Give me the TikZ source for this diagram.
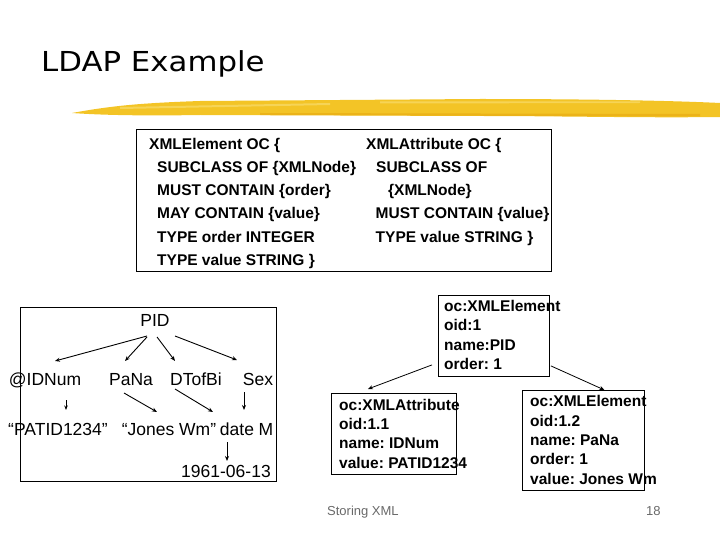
\documentclass[tikz,border=0pt]{standalone}
\usepackage{fontspec}
\setmainfont{Liberation Sans}
\newfontfamily\titlefont{DejaVu Sans}
\usetikzlibrary{arrows.meta}
\definecolor{brushgold}{RGB}{243,196,38}
\definecolor{brushlight}{RGB}{249,224,118}
\definecolor{brushdark}{RGB}{232,172,20}
\definecolor{footgray}{RGB}{105,105,105}
\frenchspacing

\begin{document}
\frenchspacing
\begin{tikzpicture}[
  x=1pt,y=-1pt,
  deftext/.style={font=\fontsize{15.5}{23.2}\selectfont\bfseries,align=left,
    anchor=north west,inner sep=0pt},
  oidtext/.style={font=\fontsize{15.5}{19.4}\selectfont\bfseries,align=left,
    anchor=north west,inner sep=0pt},
  treeword/.style={font=\fontsize{17.5}{20}\selectfont,anchor=base,inner sep=0pt},
  frame/.style={draw,line width=0.9pt,anchor=north west,inner sep=0pt},
  treearrow/.style={-{Stealth[length=5pt,width=4pt]},line width=0.9pt},
  footer/.style={font=\fontsize{13}{15}\selectfont,text=footgray,anchor=base west,inner sep=0pt},
  >=Stealth
]
  \useasboundingbox (0,0) rectangle (720,540);

  % title and brush stroke
  \node[anchor=base west,inner sep=0pt,font=\titlefont\fontsize{27.5}{30}\selectfont]
    (title) at (41,72) {\scalebox{1.12}[1]{LDAP Example}};
  \fill[brushgold] (72,113) .. controls (110,106) and (140,103) .. (200,101)
    -- (480,99) .. controls (600,99) and (680,101) .. (720,103)
    -- (720,117) .. controls (640,118) and (560,116) .. (480,116)
    -- (200,115) .. controls (140,116) and (100,115) .. (72,113) -- cycle;
  \fill[brushlight,opacity=0.6] (120,107) -- (330,103) -- (330,105) -- (120,109) -- cycle;
  \fill[brushlight,opacity=0.6] (380,101.5) -- (640,101.5) -- (640,103) -- (380,103.5) -- cycle;
  \fill[brushdark,opacity=0.7] (260,113) -- (700,114) -- (700,116.5) -- (260,115) -- cycle;

  % object class definitions
  \node[frame,minimum width=415pt,minimum height=142pt] (defs) at (136,129) {};
  \node[deftext] (defelem) at (149,137.8)
    {XMLElement OC \{\\
     \hspace*{8pt}SUBCLASS OF \{XMLNode\}\\
     \hspace*{8pt}MUST CONTAIN \{order\}\\
     \hspace*{8pt}MAY CONTAIN \{value\}\\
     \hspace*{8pt}TYPE order INTEGER\\
     \hspace*{8pt}TYPE value STRING \}};
  \node[deftext] (defattr) at (366,137.8)
    {XMLAttribute OC \{\\
     \hspace*{10pt}SUBCLASS OF\\
     \hspace*{22pt}\{XMLNode\}\\
     \hspace*{9.5pt}MUST CONTAIN \{value\}\\
     \hspace*{9.5pt}TYPE value STRING \}};

  % XML tree
  \node[frame,minimum width=256pt,minimum height=174pt] (tree) at (20,307) {};
  \node[treeword] (pid) at (155,326) {PID};
  \node[treeword] (idnum) at (45,385) {@IDNum};
  \node[treeword] (pana) at (131,385) {PaNa};
  \node[treeword] (dtofbi) at (196,385) {DTofBi};
  \node[treeword] (sex) at (258,385) {Sex};
  \node[treeword] (patid) at (58,435) {“PATID1234”};
  \node[treeword] (jones) at (169,435) {“Jones Wm”};
  \node[treeword] (date) at (237,435) {date};
  \node[treeword] (mval) at (266,435) {M};
  \node[treeword] (dob) at (226,477) {1961-06-13};

  \draw[treearrow] ([shift={(-8,10)}]pid.base) -- ([shift={(10,-24)}]idnum.base);
  \draw[treearrow] ([shift={(-8,11)}]pid.base) -- ([shift={(-6,-24)}]pana.base);
  \draw[treearrow] ([shift={(2,11)}]pid.base) -- ([shift={(-21,-24)}]dtofbi.base);
  \draw[treearrow] ([shift={(20,10)}]pid.base) -- ([shift={(-21,-25)}]sex.base);
  \draw[treearrow,-{Stealth[length=4.5pt,width=3.5pt]},line width=0.8pt]
    ([shift={(21,15)}]idnum.base) -- ([shift={(8,-25)}]patid.base);
  \draw[treearrow] ([shift={(-7,8)}]pana.base) -- ([shift={(-12,-23)}]jones.base);
  \draw[treearrow] ([shift={(-21,4)}]dtofbi.base) -- ([shift={(-24,-23)}]date.base);
  \draw[treearrow] ([shift={(-14,7)}]sex.base) -- ([shift={(-22,-25)}]mval.base);
  \draw[treearrow] ([shift={(-10,7)}]date.base) -- ([shift={(1,-16)}]dob.base);

  % stored entries
  \node[frame,minimum width=111pt,minimum height=81pt] (elem1) at (438,295) {};
  \node[oidtext] (elem1txt) at (444,300)
    {oc:XMLElement\\oid:1\\name:PID\\order: 1};
  \node[frame,minimum width=125pt,minimum height=81pt] (attr) at (331,393) {};
  \node[oidtext] (attrtxt) at (339,398.6)
    {oc:XMLAttribute\\oid:1.1\\name: IDNum\\value: PATID1234};
  \node[frame,minimum width=122pt,minimum height=100pt] (elem2) at (522,390) {};
  \node[oidtext] (elem2txt) at (530,395.3)
    {oc:XMLElement\\oid:1.2\\name: PaNa\\order: 1\\value: Jones Wm};

  \draw[treearrow,line width=0.8pt] ([shift={(-6,-12)}]elem1.south west) -- ([shift={(-26,-4)}]attr.north);
  \draw[treearrow,line width=0.8pt] ([shift={(1,-11)}]elem1.south east) -- ([shift={(21,0)}]elem2.north);

  % footer
  \node[footer] (foottitle) at (327,515) {Storing XML};
  \node[footer] (pageno) at (646,515) {18};
\end{tikzpicture}
\end{document}
